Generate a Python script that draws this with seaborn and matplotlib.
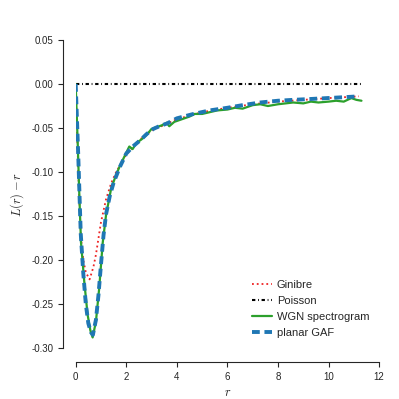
import numpy as np
import seaborn as sns
import matplotlib.pyplot as plt
from matplotlib.ticker import FormatStrFormatter

# Ginibre (theory)
r_gin = [0, 0.1, 0.2, 0.3, 0.4, 0.55, 0.7, 0.8, 1.0, 1.2, 1.4, 1.6, 2.0, 2.5, 3.0,
         4.0, 5.0, 6.0, 7.0, 8.0, 9.0, 10.0, 11.2]
l_gin = [0, -0.098, -0.172, -0.2, -0.214, -0.222, -0.208, -0.194, -0.157, -0.131, -0.113,
         -0.1, -0.08, -0.064, -0.053, -0.04, -0.032, -0.027, -0.023, -0.02, -0.018, -0.016, -0.014]

# Poisson
r_poi = [0, 11.3]
l_poi = [0, 0]

# WGN spectrogram zeros
r_wgn = [0, 0.08, 0.14, 0.21, 0.34, 0.47, 0.58, 0.67, 0.8, 0.93, 1.07, 1.2, 1.4, 1.6, 1.75,
         2.0, 2.12, 2.25, 2.4, 2.6, 2.8, 3.0, 3.2, 3.4, 3.6, 3.7, 3.9, 4.2, 4.5, 4.7, 5.0,
         5.3, 5.6, 6.0, 6.3, 6.6, 7.0, 7.3, 7.6, 8.0, 8.3, 8.6, 9.0, 9.3, 9.6, 10.0, 10.3,
         10.6, 10.9, 11.1, 11.3]
l_wgn = [0, -0.067, -0.123, -0.18, -0.225, -0.262, -0.28, -0.288, -0.27, -0.232, -0.18,
         -0.149, -0.119, -0.103, -0.093, -0.078, -0.071, -0.074, -0.067, -0.063, -0.058,
         -0.051, -0.049, -0.047, -0.044, -0.048, -0.043, -0.040, -0.037, -0.034, -0.034,
         -0.032, -0.030, -0.029, -0.027, -0.028, -0.024, -0.023, -0.025, -0.023, -0.022,
         -0.021, -0.022, -0.020, -0.021, -0.020, -0.019, -0.020, -0.016, -0.018, -0.019]

# planar GAF zeros
r_gaf = [0, 0.1, 0.2, 0.3, 0.4, 0.5, 0.6, 0.68, 0.8, 0.9, 1.0, 1.1, 1.2, 1.35, 1.5, 1.75,
         2.0, 2.3, 2.55, 2.8, 3.07, 3.3, 3.6, 4.0, 4.66, 5.3, 6.0, 6.6, 7.3, 8.0, 8.6, 9.3,
         9.94, 10.6, 11.2]
l_gaf = [0, -0.08, -0.17, -0.215, -0.25, -0.272, -0.282, -0.285, -0.268, -0.24, -0.205,
         -0.172, -0.148, -0.127, -0.112, -0.094, -0.079, -0.07, -0.064, -0.057, -0.051,
         -0.048, -0.045, -0.039, -0.034, -0.030, -0.027, -0.024, -0.021, -0.019, -0.018,
         -0.017, -0.016, -0.015, -0.014]

x_ticks = [0, 2, 4, 6, 8, 10, 12]
y_ticks = [-0.30, -0.25, -0.20, -0.15, -0.10, -0.05, 0.0, 0.05]

sns.set_style("ticks")
plt.rcParams['font.family'] = ['Liberation Sans', 'DejaVu Sans']
plt.rcParams['mathtext.fontset'] = 'cm'

fig = plt.figure(figsize=(3.99, 3.99), dpi=100)
ax = fig.add_axes([0.1897, 0.1278, 0.7606, 0.7719])

sns.lineplot(x=r_gin, y=l_gin, sort=False, color='#ee2222', lw=1.3,
             linestyle=(0, (1, 1.65)), label='Ginibre', ax=ax)
sns.lineplot(x=r_poi, y=l_poi, sort=False, color='black', lw=1.5,
             linestyle=(0, (1.6, 1.3, 0.4, 1.3)), label='Poisson', ax=ax)
sns.lineplot(x=r_wgn, y=l_wgn, sort=False, color='#2ca02c', lw=1.6,
             label='WGN spectrogram', ax=ax)
sns.lineplot(x=r_gaf, y=l_gaf, sort=False, color='#1f77b4', lw=2.8,
             linestyle=(0, (2, 1.2)), label='planar GAF', ax=ax)

ax.set_xlim(0, 12)
ax.set_ylim(-0.30, 0.05)
ax.set_xticks(x_ticks)
ax.set_yticks(y_ticks)
ax.yaxis.set_major_formatter(FormatStrFormatter('%.2f'))
ax.tick_params(labelsize=7, length=3.5)
ax.set_xlabel('$r$', fontsize=9)
ax.set_ylabel('$L(r) - r$', fontsize=9)

ax.legend(loc='lower right', bbox_to_anchor=(1.0, 0.0), frameon=False,
          fontsize=8, labelspacing=0.55, handlelength=1.8, handletextpad=0.4)

sns.despine(ax=ax, offset={'left': 9, 'bottom': 10}, trim=True)

fig.savefig('out.png', dpi=100)
